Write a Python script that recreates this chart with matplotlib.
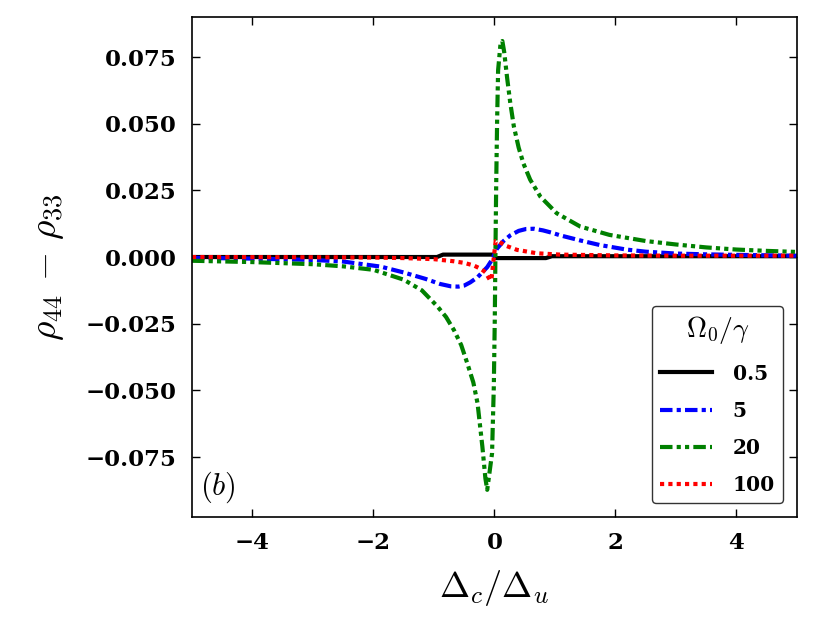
import numpy as np
import matplotlib
matplotlib.use('Agg')
import matplotlib.pyplot as plt
from matplotlib.ticker import FuncFormatter, MultipleLocator

plt.rcParams['mathtext.fontset'] = 'cm'
plt.rcParams['font.family'] = 'DejaVu Serif'
plt.rcParams['font.weight'] = 'bold'

# Omega0/gamma = 0.5
x_05 = [-5, -0.95, -0.85, -0.02, 0.02, 0.85, 0.95, 5]
y_05 = [0.0, 0.0, 0.0009, 0.0009, -0.0004, -0.0004, 0.0003, 0.0003]

# Omega0/gamma = 5
x_5 = [-5, -4, -3, -2.5, -1.88, -1.5, -1.14, -0.9, -0.72, -0.6, -0.5, -0.4, -0.28,
       -0.12, -0.04, 0.04, 0.15, 0.26, 0.4, 0.52, 0.65, 0.8, 0.95, 1.09, 1.42,
       1.74, 2.18, 2.5, 3.0, 3.5, 4.0, 5.0]
y_5 = [-0.0003, -0.0006, -0.0011, -0.0017, -0.0036, -0.0058, -0.0082, -0.0101,
       -0.0110, -0.0111, -0.0107, -0.0095, -0.0076, -0.0038, -0.0010, 0.0031,
       0.0060, 0.0081, 0.0098, 0.0105, 0.0106, 0.0100, 0.0091, 0.0081, 0.0062,
       0.0045, 0.0028, 0.0020, 0.0013, 0.0010, 0.0008, 0.0005]

# Omega0/gamma = 20
x_20 = [-5, -4, -3, -2.5, -2, -1.5, -1.2, -0.94, -0.8, -0.67, -0.55, -0.45, -0.35,
        -0.28, -0.2, -0.15, -0.12, -0.04, -0.011, 0.005, 0.016, 0.028, 0.044,
        0.06, 0.1, 0.13, 0.16, 0.21, 0.26, 0.32, 0.40, 0.48, 0.59, 0.76, 1.03,
        1.42, 1.9, 2.5, 3.0, 3.5, 4.0, 4.5, 5.0]
y_20 = [-0.0014, -0.0019, -0.0027, -0.0035, -0.0048, -0.0085, -0.0125, -0.0186,
        -0.0225, -0.0274, -0.033, -0.0398, -0.047, -0.0548, -0.0711, -0.083,
        -0.0873, -0.0736, -0.0486, -0.0236, 0.0014, 0.0264, 0.0514, 0.070,
        0.080, 0.081, 0.077, 0.067, 0.058, 0.049, 0.041, 0.035, 0.029, 0.0226,
        0.0164, 0.0114, 0.0083, 0.006, 0.0047, 0.0036, 0.0028, 0.0023, 0.0019]

# Omega0/gamma = 100
x_100 = [-5, -3, -2, -1.5, -1.0, -0.67, -0.5, -0.34, -0.22, -0.15, -0.07, -0.05,
         -0.02, 0.02, 0.07, 0.18, 0.37, 0.70, 1.09, 2.0, 3.0, 5.0]
y_100 = [0.0, -0.0001, -0.0002, -0.0004, -0.0008, -0.0016, -0.0022, -0.0032,
         -0.0045, -0.0057, -0.0088, -0.0085, -0.002, 0.0060, 0.0058, 0.0043,
         0.0027, 0.0014, 0.0009, 0.0006, 0.0005, 0.0005]

labels = ['0.5', '5', '20', '100']

fig = plt.figure(figsize=(8.3, 6.23), dpi=100)
ax = fig.add_axes([0.2313, 0.1701, 0.7289, 0.8026])

lw = 3
ax.plot(x_05, y_05, color='black', lw=lw, ls='-', label=labels[0])
ax.plot(x_5, y_5, color='blue', lw=lw, ls=(0, (3, 1, 1, 1)), label=labels[1])
ax.plot(x_20, y_20, color='green', lw=lw, ls=(0, (3, 1, 1, 1, 1, 1)), label=labels[2])
ax.plot(x_100, y_100, color='red', lw=lw, ls=(0, (1, 1)), label=labels[3])

ax.set_xlim(-5, 5)
ax.set_ylim(-0.0975, 0.09)
ax.xaxis.set_major_locator(MultipleLocator(2))
ax.yaxis.set_major_locator(MultipleLocator(0.025))

def fmt_x(v, pos):
    n = int(round(v))
    return str(n) if n >= 0 else '\u2212%d' % abs(n)

def fmt_y(v, pos):
    s = '%.3f' % abs(v)
    if v < -1e-9:
        s = '\u2212' + s
    return s

ax.xaxis.set_major_formatter(FuncFormatter(fmt_x))
ax.yaxis.set_major_formatter(FuncFormatter(fmt_y))
ax.tick_params(direction='in', top=True, right=True, length=6, width=1,
               labelsize=16.5)
ax.tick_params(axis='y', pad=11)
ax.tick_params(axis='x', pad=11)
for sp in ax.spines.values():
    sp.set_linewidth(1.2)

ax.set_xlabel(r'$\Delta_c/\Delta_u$', fontsize=26, labelpad=10)
ax.set_ylabel(r'$\rho_{44}\,-\,\rho_{33}$', fontsize=27, labelpad=14)

ax.text(0.013, 0.045, r'$(b)$', transform=ax.transAxes, fontsize=22)

leg = ax.legend(title=r'$\Omega_0/\gamma$', loc='lower right',
                fontsize=14.5, title_fontsize=20, handlelength=2.6, fancybox=True,
                edgecolor='#333333', framealpha=1, borderaxespad=0.7,
                labelspacing=0.85, handletextpad=1.0)

fig.savefig('out.png', dpi=100)
